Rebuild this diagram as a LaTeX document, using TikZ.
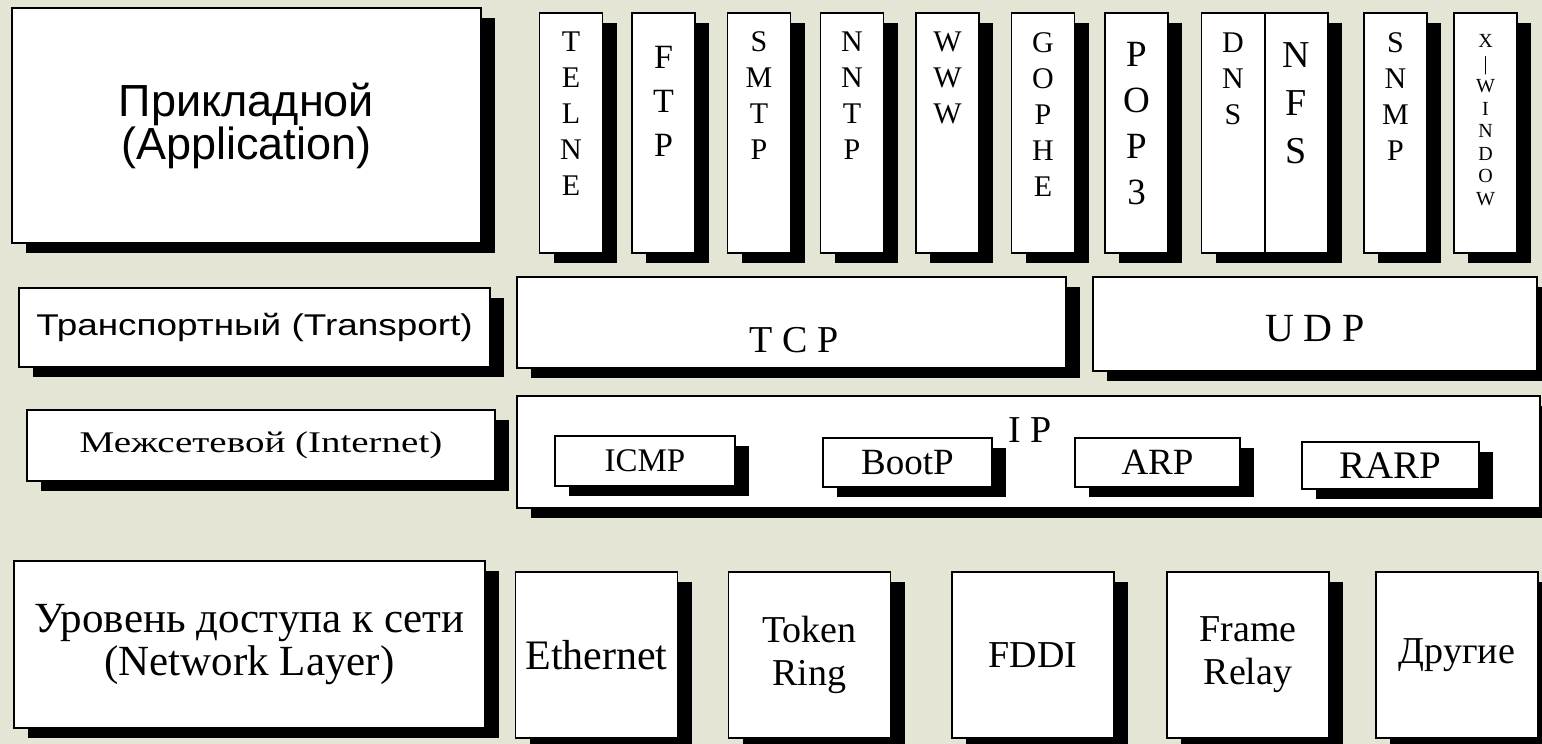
\documentclass[tikz,border=0pt]{standalone}
\usepackage{fontspec}
\setmainfont{Liberation Serif}
\newfontfamily\sansfam{Liberation Sans}
\newfontfamily\widesans[FakeStretch=1.23]{Liberation Sans}
\newfontfamily\wideserif[FakeStretch=1.3]{Liberation Serif}
\usetikzlibrary{shadows, positioning}
\definecolor{slide}{RGB}{228,229,212}

\begin{document}
\begin{tikzpicture}[
    x=1pt, y=-1pt,
    layer/.style={draw=black, line width=1.5pt, fill=white, inner sep=0pt,
        align=center,
        drop shadow={shadow xshift=14pt, shadow yshift=-10pt,
            opacity=1, fill=black}},
    column/.style={layer, minimum width=63pt, minimum height=240pt},
    letters/.style={inner sep=0pt, align=center, anchor=north},
    netbox/.style={layer, minimum width=162pt, minimum height=166pt,
        font=\fontsize{38}{43}\selectfont},
]

% background of the slide
\useasboundingbox (0,0) rectangle (1542,744);
\fill[slide] (0,0) rectangle (1542,744);

% =============================================================================
% Application layer
% =============================================================================
\node[layer, minimum width=469pt, minimum height=235pt,
    font=\sansfam\fontsize{45}{37}\selectfont] (app) at (246.5,125.5)
    {Прикладной\\(Application)};

% one column per protocol, letters stacked from the top
\foreach \nm/\xc/\gap/\fs/\ls/\txt in {
    telnet/571/19/30/36/{T\\E\\L\\N\\E},
    ftp/663.5/34/34/44/{F\\T\\P},
    smtp/759/19/30/36/{S\\M\\T\\P},
    nntp/852/19/30/36/{N\\N\\T\\P},
    www/947.5/19/30/36/{W\\W\\W},
    gopher/1043/20/30/36/{G\\O\\P\\H\\E},
    pop/1136.5/30/37/46/{P\\O\\P\\3},
    dns/1233/20/30/36/{D\\N\\S},
    nfs/1296.5/30/38/48/{N\\F\\S},
    snmp/1395.5/20/30/36/{S\\N\\M\\P},
    xwin/1485.5/22/20/22.5/{X\\|\\W\\I\\N\\D\\O\\W}} {
    \node[column] (\nm) at (\xc,133) {};
    \node[letters, font=\fontsize{\fs}{\ls}\selectfont,
        below=\gap pt of \nm.north] (\nm-txt) {\txt};
}

% =============================================================================
% Transport layer
% =============================================================================
\node[layer, minimum width=471pt, minimum height=79pt,
    font=\widesans\fontsize{30}{36}\selectfont] (transport) at (254.5,327.5)
    {Транспортный (Transport)};

\node[layer, minimum width=549pt, minimum height=91pt] (tcp) at (791.5,322.5) {};
\node[font=\fontsize{38}{40}\selectfont] (tcp-txt) at (794,340.5) {T C P};

\node[layer, minimum width=444pt, minimum height=94pt] (udp) at (1315,324) {};
\node[font=\fontsize{40}{42}\selectfont] (udp-txt) at (1315,329) {U D P};

% =============================================================================
% Internet layer
% =============================================================================
\node[layer, minimum width=468pt, minimum height=71pt,
    font=\wideserif\fontsize{30}{36}\selectfont] (internet) at (261,445.5)
    {Межсетевой (Internet)};

\node[layer, minimum width=1023pt, minimum height=112pt] (ip) at (1028.5,452) {};
\node[font=\fontsize{38}{40}\selectfont] (ip-txt) at (1030,430.5) {I P};

\node[layer, minimum width=180pt, minimum height=50pt,
    font=\fontsize{33}{36}\selectfont] (icmp) at (645,461) {ICMP};
\node[layer, minimum width=169pt, minimum height=49pt,
    font=\fontsize{37}{40}\selectfont] (bootp) at (907.5,462.5) {BootP};
\node[layer, minimum width=165pt, minimum height=49pt,
    font=\fontsize{37}{40}\selectfont] (arp) at (1157.5,462.5) {ARP};
\node[layer, minimum width=177pt, minimum height=47pt,
    font=\fontsize{39}{42}\selectfont] (rarp) at (1390.5,465.5) {RARP};

% =============================================================================
% Network access layer
% =============================================================================
\node[layer, minimum width=471pt, minimum height=167pt,
    font=\fontsize{43}{43}\selectfont] (network) at (249.5,644.5)
    {Уровень доступа к сети\\(Network Layer)};

\node[netbox, font=\fontsize{42}{43}\selectfont] (ethernet) at (596.5,655) {Ethernet};
\node[netbox] (token) at (809.5,655) {Token\\Ring};
\node[netbox] (fddi) at (1033,655) {FDDI};
\node[netbox] (frame) at (1248,655) {Frame\\Relay};
\node[netbox] (other) at (1457,655) {Другие};

\end{tikzpicture}
\end{document}
